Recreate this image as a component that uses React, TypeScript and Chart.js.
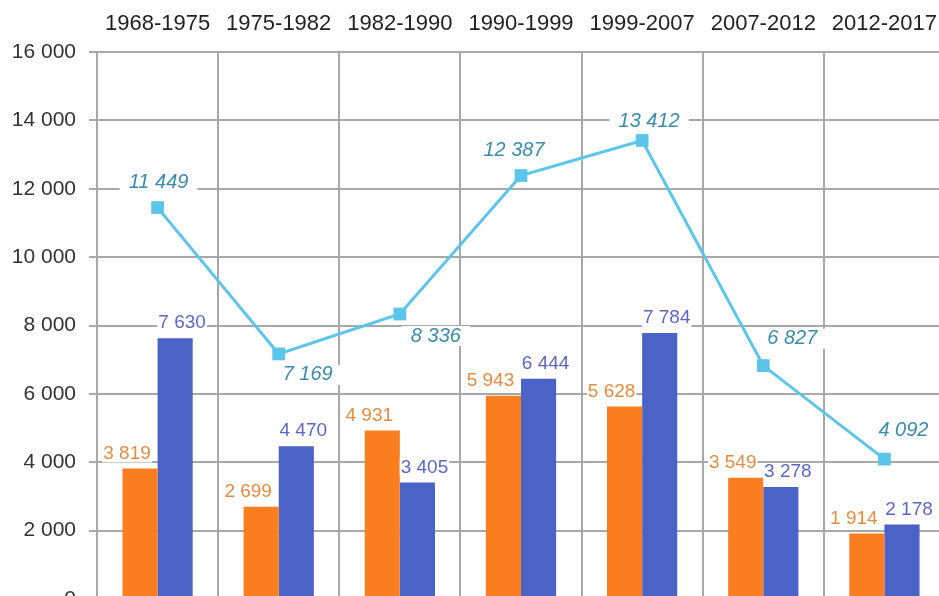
import React, { useEffect, useRef } from 'react';
import { Chart, registerables } from 'chart.js';

Chart.register(...registerables);

// ---- Data ----
const periods = ['1968-1975', '1975-1982', '1982-1990', '1990-1999', '1999-2007', '2007-2012', '2012-2017'];
const soldeNaturel = [3819, 2699, 4931, 5943, 5628, 3549, 1914];
const soldeMigratoire = [7630, 4470, 3405, 6444, 7784, 3278, 2178];
const variationTotale = [11449, 7169, 8336, 12387, 13412, 6827, 4092];
const yMin = 0;
const yMax = 16000;
const yStep = 2000;

// ---- Styles ----
const FONT = "'Liberation Sans', Arial, sans-serif";
const ORANGE = '#FB7F20';
const BLUE = '#4B62C6';
const LINE = '#5BC5EA';
const ORANGE_TXT = '#E48C42';
const BLUE_TXT = '#5D67C2';
const LINE_TXT = '#3A8CA8';
const GRID = '#A8A8A8';
// label placement offsets for the line labels (px, relative to the point)
const LINE_LABEL_OFFSETS: [number, number][] = [[1, -25], [29, 21], [36, 22], [-7, -25], [7, -19], [29, -27], [19, -29]];
const BAR_LABEL_DX = [-13, 7];

const fmt = (n: number) => String(n).replace(/\B(?=(\d{3})+(?!\d))/g, ' ');

function drawBoxedText(ctx: CanvasRenderingContext2D, text: string, x: number, y: number, font: string, color: string, padX: number, boxH: number) {
  ctx.save();
  ctx.font = font;
  const w = ctx.measureText(text).width;
  ctx.fillStyle = '#ffffff';
  ctx.fillRect(x - w / 2 - padX, y - boxH / 2, w + padX * 2, boxH);
  ctx.fillStyle = color;
  ctx.textAlign = 'center';
  ctx.textBaseline = 'middle';
  ctx.fillText(text, x, y);
  ctx.restore();
}

const labelPlugin = {
  id: 'valueLabels',
  afterDatasetsDraw(chart: any) {
    const ctx = chart.ctx as CanvasRenderingContext2D;
    // bars
    [1, 2].forEach((di, k) => {
      const meta = chart.getDatasetMeta(di);
      const values = chart.data.datasets[di].data as number[];
      const color = k === 0 ? ORANGE_TXT : BLUE_TXT;
      meta.data.forEach((el: any, i: number) => {
        drawBoxedText(ctx, fmt(values[i]), el.x + BAR_LABEL_DX[k], el.y - 15, `19px ${FONT}`, color, 1, 18);
      });
    });
    // line
    const lmeta = chart.getDatasetMeta(0);
    const lvalues = chart.data.datasets[0].data as number[];
    lmeta.data.forEach((el: any, i: number) => {
      const [dx, dy] = LINE_LABEL_OFFSETS[i];
      drawBoxedText(ctx, fmt(lvalues[i]), el.x + dx, el.y + dy, `italic 20px ${FONT}`, LINE_TXT, 9, 20);
    });
  },
};

export default function App() {
  const ref = useRef<HTMLCanvasElement | null>(null);

  useEffect(() => {
    if (!ref.current) return;
    const chart = new Chart(ref.current, {
      type: 'bar',
      data: {
        labels: periods,
        datasets: [
          {
            type: 'line',
            label: 'Variation totale',
            data: variationTotale,
            borderColor: LINE,
            backgroundColor: LINE,
            borderWidth: 3,
            pointStyle: 'rect',
            pointRadius: 9,
            pointBackgroundColor: LINE,
            pointBorderWidth: 0,
            tension: 0,
            order: 0,
          } as any,
          {
            type: 'bar',
            label: 'Solde naturel',
            data: soldeNaturel,
            backgroundColor: ORANGE,
            borderWidth: 0,
            barPercentage: 1,
            categoryPercentage: 0.58,
            order: 1,
          },
          {
            type: 'bar',
            label: 'Solde migratoire',
            data: soldeMigratoire,
            backgroundColor: BLUE,
            borderWidth: 0,
            barPercentage: 1,
            categoryPercentage: 0.58,
            order: 1,
          },
        ],
      },
      options: {
        responsive: false,
        animation: false,
        devicePixelRatio: 1,
        layout: { padding: { left: 0, top: 0, right: 45, bottom: 41 } },
        plugins: {
          legend: { display: false },
          tooltip: { enabled: false },
        },
        scales: {
          x: {
            position: 'top',
            offset: true,
            grid: { color: GRID, lineWidth: 2, offset: true, drawTicks: false },
            border: { color: GRID, width: 2 },
            ticks: { color: '#222', font: { family: FONT, size: 22 }, padding: 15, maxRotation: 0 },
            afterFit: (s: any) => { s.height = 52; },
          },
          y: {
            min: yMin,
            max: yMax,
            ticks: { stepSize: yStep, color: '#333', font: { family: FONT, size: 21 }, padding: 13, callback: (v: any) => fmt(Number(v)) },
            grid: { color: GRID, lineWidth: 2, tickLength: 8 },
            border: { color: GRID, width: 2 },
            afterFit: (s: any) => { s.width = 97; },
          },
        },
      },
      plugins: [labelPlugin],
    });
    return () => chart.destroy();
  }, []);

  return (
    <div style={{ position: 'fixed', left: 0, top: 0, width: 939, height: 596, overflow: 'hidden', background: '#fff' }}>
      <canvas ref={ref} width={990} height={640} style={{ display: 'block', width: 990, height: 640 }} />
    </div>
  );
}
